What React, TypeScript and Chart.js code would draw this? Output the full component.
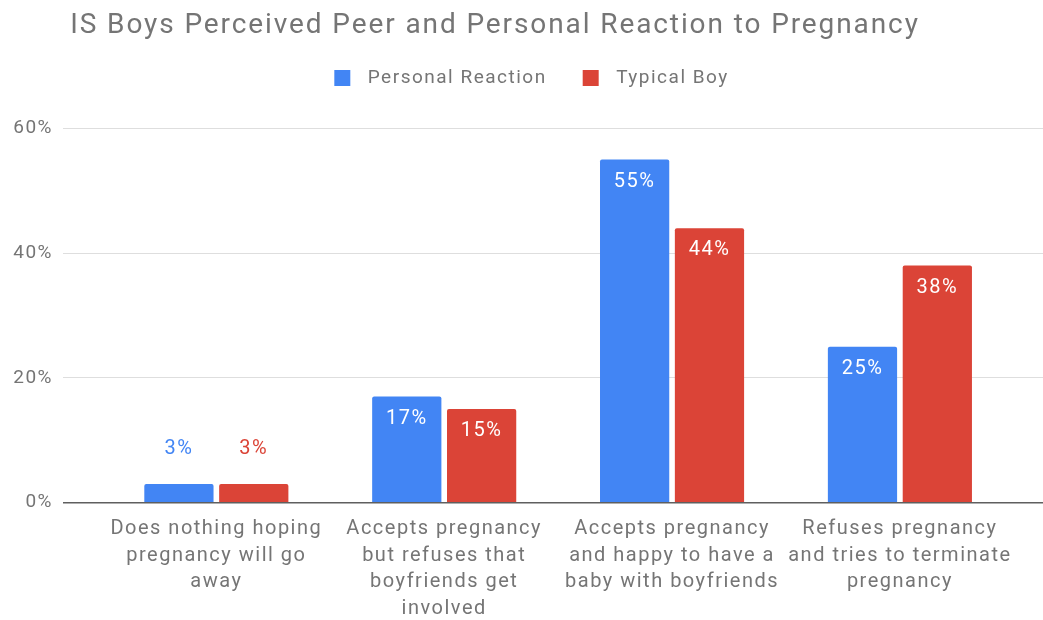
import React, { useEffect, useRef } from "react";
import { Chart, registerables } from "chart.js";

Chart.register(...registerables);

// Chart content
const titleText = "IS Boys Perceived Peer and Personal Reaction to Pregnancy";
const categories: string[][] = [
  ["Does nothing hoping", "pregnancy will go", "away"],
  ["Accepts pregnancy", "but refuses that", "boyfriends get", "involved"],
  ["Accepts pregnancy", "and happy to have a", "baby with boyfriends"],
  ["Refuses pregnancy", "and tries to terminate", "pregnancy"],
];
const personalReaction = [3, 17, 55, 25];
const typicalBoy = [3, 15, 44, 38];
const yTicks = [0, 20, 40, 60];

const BLUE = "#4285F4";
const RED = "#DB4437";
const TEXT = "#757575";
const FONT = "Roboto";
const SPACING = "1.5px";

// Legend swatch: a square with a transparent left margin, used as a point-style image
function makeSwatch(color: string): HTMLCanvasElement {
  const c = document.createElement("canvas");
  c.width = 44;
  c.height = 16;
  const g = c.getContext("2d")!;
  g.fillStyle = color;
  g.fillRect(20, 0, 16, 16);
  return c;
}

// Slightly wider letter spacing for every text the chart measures and draws
const textSpacing = {
  id: "textSpacing",
  beforeLayout(chart: any) {
    chart.ctx.letterSpacing = SPACING;
  },
  beforeDraw(chart: any) {
    chart.ctx.letterSpacing = SPACING;
  },
};

// Chart title, drawn on the canvas
const chartTitle = {
  id: "chartTitle",
  afterDraw(chart: any) {
    const { ctx } = chart;
    ctx.save();
    ctx.letterSpacing = "1.9px";
    ctx.font = `28px ${FONT}`;
    ctx.fillStyle = TEXT;
    ctx.textAlign = "center";
    ctx.textBaseline = "alphabetic";
    ctx.fillText(titleText, 495, 33);
    ctx.restore();
  },
};

// Value labels: above short bars in the series colour, inside tall bars in white
const valueLabels = {
  id: "valueLabels",
  afterDatasetsDraw(chart: any) {
    const { ctx } = chart;
    ctx.save();
    ctx.letterSpacing = SPACING;
    ctx.font = `20px ${FONT}`;
    ctx.textAlign = "center";
    ctx.textBaseline = "middle";
    chart.data.datasets.forEach((ds: any, di: number) => {
      const meta = chart.getDatasetMeta(di);
      meta.data.forEach((bar: any, i: number) => {
        const v = ds.data[i].y;
        const h = bar.base - bar.y;
        const label = `${v}%`;
        if (h < 40) {
          ctx.fillStyle = ds.backgroundColor;
          ctx.fillText(label, bar.x, bar.y - 35);
        } else {
          ctx.fillStyle = "#ffffff";
          ctx.fillText(label, bar.x, bar.y + 22);
        }
      });
    });
    ctx.restore();
  },
};

export default function App() {
  const canvasRef = useRef<HTMLCanvasElement | null>(null);

  useEffect(() => {
    if (!canvasRef.current) return;
    const swatches = [makeSwatch(BLUE), makeSwatch(RED)];
    const chart = new Chart(canvasRef.current, {
      type: "bar",
      data: {
        datasets: [
          {
            label: "Personal Reaction",
            data: personalReaction.map((y, x) => ({ x, y })),
            xAxisID: "x",
            yAxisID: "y",
            backgroundColor: BLUE,
            borderRadius: 2,
            borderSkipped: "bottom",
          },
          {
            label: "Typical Boy",
            data: typicalBoy.map((y, x) => ({ x, y })),
            xAxisID: "x",
            yAxisID: "y",
            backgroundColor: RED,
            borderRadius: 2,
            borderSkipped: "bottom",
          },
        ],
      },
      options: {
        animation: false,
        responsive: false,
        devicePixelRatio: 1,
        categoryPercentage: 0.657,
        barPercentage: 0.925,
        layout: { padding: { top: 52.8, left: 0, right: 0, bottom: 0 } },
        plugins: {
          title: { display: false },
          legend: {
            display: true,
            position: "top",
            labels: {
              usePointStyle: true,
              pointStyleWidth: 44,
              boxHeight: 19,
              padding: 16,
              color: TEXT,
              font: { family: FONT, size: 19 },
              generateLabels: (c: any) =>
                c.data.datasets.map((ds: any, i: number) => ({
                  text: ds.label,
                  fillStyle: ds.backgroundColor,
                  strokeStyle: ds.backgroundColor,
                  lineWidth: 0,
                  pointStyle: swatches[i],
                  hidden: false,
                  datasetIndex: i,
                  fontColor: TEXT,
                })),
            },
          },
          tooltip: { enabled: false },
        },
        scales: {
          x: {
            type: "linear",
            position: "bottom",
            min: -0.673,
            max: 3.628,
            bounds: "data",
            offset: false,
            afterBuildTicks: (axis: any) => {
              axis.ticks = categories.map((_, i) => ({ value: i }));
            },
            afterFit: (scale: any) => {
              scale.height = 117.3;
            },
            grid: { display: false, drawTicks: false },
            border: { display: false },
            ticks: {
              autoSkip: false,
              maxRotation: 0,
              minRotation: 0,
              padding: 13,
              color: TEXT,
              font: { family: FONT, size: 20, lineHeight: 1.335 },
              callback: (value: any) => categories[Number(value)] ?? "",
            },
          },
          y: {
            min: 0,
            max: 60,
            afterBuildTicks: (axis: any) => {
              axis.ticks = yTicks.map((v) => ({ value: v }));
            },
            afterFit: (scale: any) => {
              scale.width = 63;
            },
            grid: {
              drawTicks: false,
              color: (ctx: any) => (ctx.tick && ctx.tick.value === 0 ? "#5f5f5f" : "#dedede"),
              lineWidth: (ctx: any) => (ctx.tick && ctx.tick.value === 0 ? 1.6 : 1),
            },
            border: { display: false },
            ticks: {
              padding: 10,
              color: TEXT,
              font: { family: FONT, size: 19 },
              callback: (value: any) => `${value}%`,
            },
          },
          // empty band between the legend and the plot
          gap: {
            type: "category",
            position: "top",
            axis: "x",
            labels: [""],
            display: true,
            grid: { display: false, drawTicks: false },
            border: { display: false },
            ticks: { display: false },
            afterFit: (scale: any) => {
              scale.height = 30.5;
            },
          },
        },
      },
      plugins: [textSpacing, valueLabels, chartTitle],
    } as any);
    return () => chart.destroy();
  }, []);

  return (
    <div style={{ position: "absolute", left: 0, top: 0, width: 1043, height: 620, background: "#fff" }}>
      <canvas ref={canvasRef} width={1043} height={620} />
    </div>
  );
}
